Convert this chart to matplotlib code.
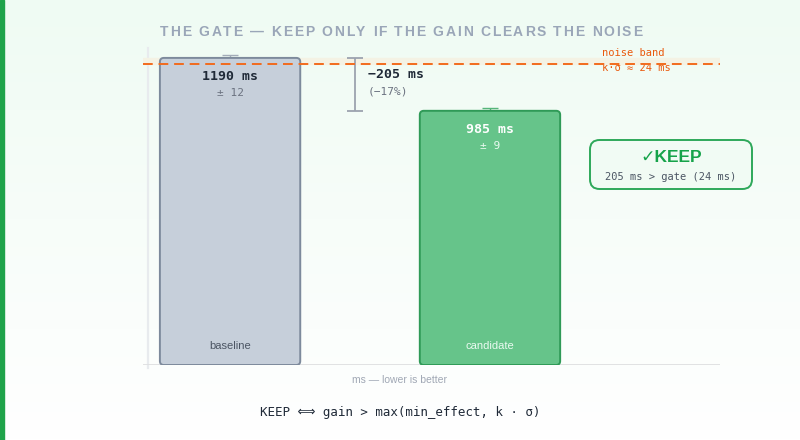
import matplotlib.pyplot as plt
import numpy as np
from matplotlib.patches import FancyBboxPatch
from matplotlib.colors import LinearSegmentedColormap
from matplotlib.font_manager import FontProperties

# data
labels = ['baseline', 'candidate']
means = [1190, 985]
sigmas = [12, 9]
k_sigma = 24
keep_label = 'KEEP'

gain = means[0] - means[1]
pct = round(100 * gain / means[0])
gate = means[0] - k_sigma

mono = ['DejaVu Sans Mono', 'DejaVu Sans']
sans = ['Liberation Sans', 'DejaVu Sans']

fig = plt.figure(figsize=(8, 4.4), dpi=100)

# background gradient + green stripe on the left
bg = fig.add_axes([0, 0, 1, 1], zorder=-10)
grad = np.linspace(0, 1, 256).reshape(-1, 1)
cmap = LinearSegmentedColormap.from_list('bg', ['#effbf3', '#ffffff'])
bg.imshow(grad, aspect='auto', cmap=cmap, extent=[0, 1, 0, 1], origin='upper')
bg.axvspan(0, 4 / 800, color='#1fa34a')
bg.set_xlim(0, 1)
bg.set_ylim(0, 1)
bg.axis('off')

# main axes
ax = fig.add_axes([143 / 800, 75 / 440, 577 / 800, 320 / 440])
ax.patch.set_alpha(0)
ax.set_xlim(-0.335, 1.885)
ax.set_ylim(0, 1240)
for s in ax.spines.values():
    s.set_visible(False)
ax.set_xticks([])
ax.set_yticks([])

# faint axis lines
ax.plot([-0.316, -0.316], [-12, 1230], color='#e8ebee', lw=1.6, zorder=1, clip_on=False)
ax.axhline(0, color='#dedfe1', lw=2, zorder=1)

# noise band
ax.axhspan(gate, means[0], color='#f4f2e4', zorder=1)

px_x = 577 / (ax.get_xlim()[1] - ax.get_xlim()[0])
px_y = 320 / (ax.get_ylim()[1] - ax.get_ylim()[0])
r = 4 / px_x
aspect = px_x / px_y

width = 0.54
fills = ['#c6cfda', '#66c48a']
edges = ['#7d8a9c', '#2f9a57']
err_cols = ['#a3acb8', '#55b57a']
xs = np.arange(len(labels))
for i, (m, sd) in enumerate(zip(means, sigmas)):
    box = FancyBboxPatch((xs[i] - width / 2, 0), width, m,
                         boxstyle=f'round,pad=0,rounding_size={r}',
                         mutation_aspect=aspect,
                         fc=fills[i], ec=edges[i], lw=1.4, zorder=3)
    ax.add_patch(box)
    ax.errorbar(xs[i], m, yerr=sd, color=err_cols[i], capsize=6, lw=1,
                capthick=1, zorder=2)

# labels inside bars
txt_main = ['#1f2937', '#ffffff']
txt_sub = ['#6b7280', '#eafaf0']
txt_cat = ['#4b5563', '#eafaf0']
for i, (m, sd) in enumerate(zip(means, sigmas)):
    ax.text(xs[i], m - 74, f'{m} ms', ha='center', va='center', fontsize=9.5,
            fontweight='bold', family=mono, color=txt_main[i], zorder=5)
    ax.text(xs[i], m - 136, f'± {sd}', ha='center', va='center', fontsize=8,
            family=mono, color=txt_sub[i], zorder=5)
    ax.text(xs[i], 73, labels[i], ha='center', va='center', fontsize=8,
            family=sans, color=txt_cat[i], zorder=5)

# delta bracket
bx = 0.48
ax.errorbar(bx, (means[0] + means[1]) / 2, yerr=gain / 2, color='#9ca3af',
            capsize=6, lw=1.3, capthick=1.3, zorder=2)
ax.text(0.53, means[0] - 66, f'−{gain} ms', ha='left', va='center',
        fontsize=9.5, fontweight='bold', family=mono, color='#1f2937')
ax.text(0.53, means[0] - 132, f'(−{pct}%)', ha='left', va='center',
        fontsize=8, family=mono, color='#6b7280')

# gate line
ax.axhline(gate, color='#f26b1d', lw=1.4, ls=(0, (5, 3)), zorder=6)
ax.text(1.43, gate + 42, 'noise band', ha='left', va='center', fontsize=7.5,
        family=mono, color='#ea580c', zorder=7)
ax.text(1.43, gate - 16, f'k·σ ≈ {k_sigma} ms', ha='left', va='center',
        fontsize=7.5, family=mono, color='#ea580c', zorder=5)

# verdict box
vb = FancyBboxPatch((590 / 800, 1 - 189 / 440), 162 / 800, 49 / 440,
                    boxstyle='round,pad=0,rounding_size=0.012',
                    mutation_aspect=800 / 440,
                    transform=fig.transFigure, fc='#f1fbf4', ec='#2ea85a',
                    lw=1.4, zorder=5)
fig.patches.append(vb)
fig.text(671 / 800, 1 - 157 / 440, f'✓{keep_label}', ha='center', va='center',
         fontsize=12.5, fontweight='bold', family=sans,
         color='#16a34a', zorder=6)
fig.text(671 / 800, 1 - 177 / 440, f'{gain} ms > gate ({k_sigma} ms)',
         ha='center', va='center', fontsize=7.5, family=mono, color='#4b5563',
         zorder=6)

# axis caption and rule
fig.text(400 / 800, 1 - 380 / 440, 'ms — lower is better', ha='center',
         va='center', fontsize=7.5, family=sans, color='#a0a7b4')
fig.text(400 / 800, 1 - 412 / 440, 'KEEP ⟺ gain > max(min_effect, k · σ)',
         ha='center', va='center', fontsize=9, family=mono, color='#1f2937')

# letter-spaced title
title = 'THE GATE — KEEP ONLY IF THE GAIN CLEARS THE NOISE'
fp = FontProperties(family=sans, weight='bold', size=10)
renderer = fig.canvas.get_renderer()
widths = []
for ch in title:
    if ch == ' ':
        w = renderer.get_text_width_height_descent('a a', fp, ismath=False)[0] - \
            renderer.get_text_width_height_descent('aa', fp, ismath=False)[0]
    else:
        w = renderer.get_text_width_height_descent(ch, fp, ismath=False)[0]
    widths.append(w)
x0, x1 = 160, 642
spacing = ((x1 - x0) - sum(widths)) / (len(title) - 1)
x = x0
for ch, w in zip(title, widths):
    fig.text(x / 800, 1 - 32 / 440, ch, ha='left', va='center',
             fontproperties=fp, color='#9aa6b8')
    x += w + spacing

fig.savefig('out.png', dpi=100)
